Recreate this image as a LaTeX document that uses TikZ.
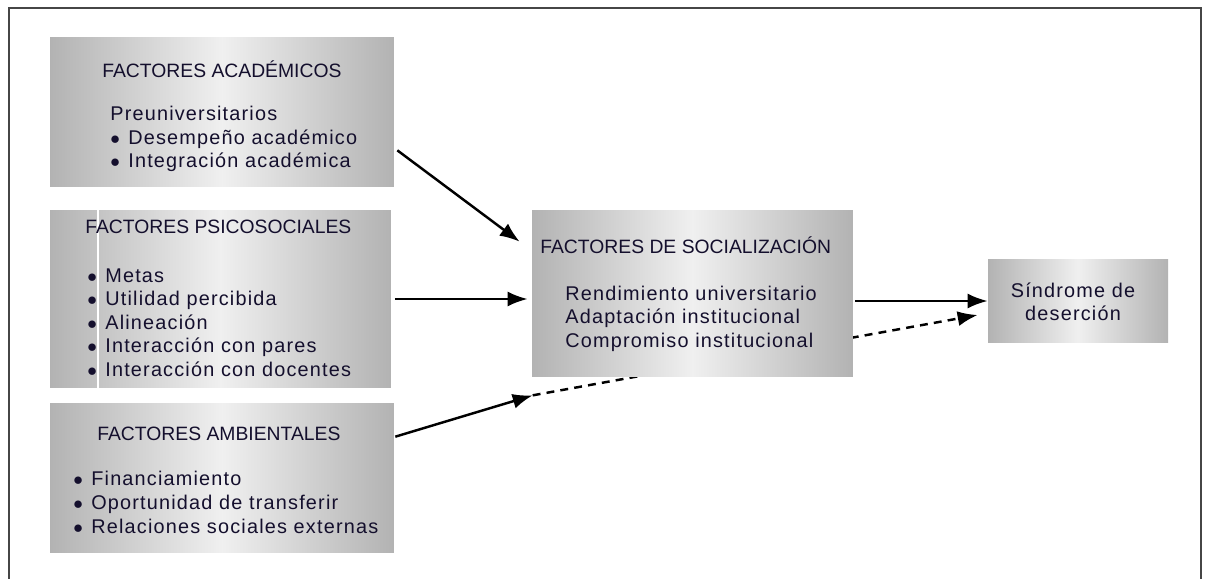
\documentclass[tikz,border=0pt]{standalone}
\usepackage{fontspec}
\setmainfont{Liberation Sans}
\newfontfamily\itemfont{Liberation Sans}[LetterSpace=6]
\usetikzlibrary{arrows.meta,backgrounds}
\definecolor{tinta}{RGB}{20,15,45}
\definecolor{marco}{RGB}{70,70,70}
\newcommand{\vin}{\makebox[0.36cm][l]{$\bullet$}}
\tikzset{
  factbox/.style={inner sep=0pt, left color=black!30, right color=black!30, middle color=black!6},
  titulo/.style={anchor=base west, inner sep=0pt, text=tinta, font=\fontsize{11}{13}\selectfont},
  renglon/.style={anchor=base west, inner sep=0pt, text=tinta, font=\itemfont\fontsize{11.3}{13}\selectfont},
  flecha/.style={-{Latex[length=0.4cm,width=0.3cm]}, line width=1.4pt},
}
\begin{document}
\begin{tikzpicture}[x=0.02cm, y=-0.02cm]
        \useasboundingbox (0,0) rectangle (1209,578);
        \draw[marco, line width=1.2pt] (9,600) -- (9,8) -- (1201,8) -- (1201,600);
        % boxes
        \node[factbox, minimum width=6.88cm, minimum height=3cm] (acad) at (222,112) {};
        \node[factbox, minimum width=6.82cm, minimum height=3.56cm] (psico) at (220.5,299) {};
        \draw[white, line width=0.8pt] (98,210) -- (98,388);
        \node[factbox, minimum width=6.88cm, minimum height=3cm] (amb) at (222,478) {};
        \node[factbox, minimum width=6.42cm, minimum height=3.34cm] (soc) at (692.5,293.5) {};
        \node[factbox, minimum width=3.6cm, minimum height=1.68cm] (sind) at (1078,301) {};
        % academicos
        \node[titulo] (acad-t) at (102,77) {FACTORES ACADÉMICOS};
        \node[renglon] (acad-0) at (110,120) {Preuniversitarios};
        \foreach \txt [count=\i] in {Desempeño académico, Integración académica}
            \node[renglon] (acad-\i) at (110,{121+23*\i}) {\vin\txt};
        % psicosociales
        \node[titulo] (psico-t) at (85,233) {FACTORES PSICOSOCIALES};
        \foreach \txt [count=\i] in {Metas, Utilidad percibida, Alineación, Interacción con pares, Interacción con docentes}
            \node[renglon] (psico-\i) at (87,{258.5+23.5*\i}) {\vin\txt};
        % ambientales
        \node[titulo] (amb-t) at (97,440) {FACTORES AMBIENTALES};
        \foreach \txt [count=\i] in {Financiamiento, Oportunidad de transferir, Relaciones sociales externas}
            \node[renglon] (amb-\i) at (73,{461+24*\i}) {\vin\txt};
        % socializacion
        \node[titulo] (soc-t) at (540,253) {FACTORES DE SOCIALIZACIÓN};
        \foreach \txt [count=\i] in {Rendimiento universitario, Adaptación institucional, Compromiso institucional}
            \node[renglon] (soc-\i) at (565,{276.5+23.5*\i}) {\txt};
        % sindrome
        \node[renglon, anchor=base] (sind-1) at (1073,297) {Síndrome de};
        \node[renglon, anchor=base] (sind-2) at (1073,320) {deserción};
        % arrows
        \draw[flecha] ([shift={(3,-37)}]acad.south east) -- ([shift={(-12,32)}]soc.north west);
        \draw[flecha, shorten <=2pt, shorten >=2.3pt] (psico.east) -- (psico.east -| soc.west);
        \coordinate (junta) at ([shift={(1,18)}]soc.south west);
        \draw[flecha] ([shift={(1,34)}]amb.north east) -- (junta);
        \begin{scope}[on background layer]
            \draw[flecha, dash pattern=on 4.5pt off 3.5pt] (junta) -- ([shift={(-10,14)}]sind.west);
        \end{scope}
        \draw[flecha, shorten <=1pt] (soc.east |- sind.west) -- (sind.west);
    \end{tikzpicture}
\end{document}
